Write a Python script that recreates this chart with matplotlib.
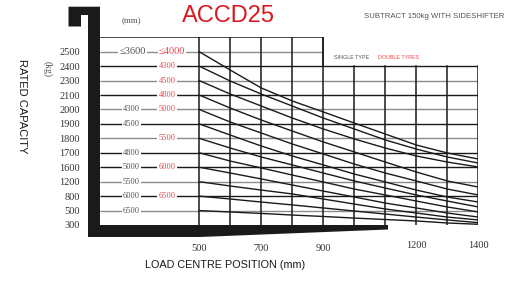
import matplotlib
matplotlib.use("Agg")
import matplotlib.pyplot as plt
import matplotlib.transforms as mtrans
from matplotlib.patches import Polygon

# ---------------------------
# data
# ---------------------------
# load centre positions (mm) of the vertical grid lines
load_centre = [500, 600, 700, 800, 900, 1000, 1100, 1200, 1300, 1400]
x_ticks = [500, 700, 900, 1200, 1400]

# rated capacity rows (kg), bottom to top -- axis is categorical, one row each
capacity_rows = ["300", "500", "800", "1200", "1600", "1700", "1800",
                 "1900", "2000", "2100", "2300", "2400", "2500"]

# lift height labels per row (single tyre / double tyres), row index -> text
single_tyre = {12: "≤3600", 8: "4300", 7: "4500", 5: "4800", 4: "5000",
               3: "5500", 2: "6000", 1: "6500"}
double_tyres = {12: "≤4000", 11: "4300", 10: "4500", 9: "4800", 8: "5000",
                6: "5500", 4: "6000", 2: "6500"}

# capacity curves (in row units) at each load_centre
curve_2500 = [12.0, 10.73, 9.49, 8.59, 7.83, 7.06, 6.30, 5.54, 4.99, 4.57]
curve_2400 = [11.0, 9.97, 9.07, 8.24, 7.41, 6.65, 5.89, 5.26, 4.71, 4.29]
curve_2300 = [10.0, 9.07, 8.24, 7.41, 6.65, 5.96, 5.33, 4.78, 4.36, 4.02]
curve_2100 = [9.0, 8.10, 7.27, 6.51, 5.75, 5.06, 4.36, 3.67, 3.05, 2.63]
curve_2000 = [8.0, 7.13, 6.37, 5.61, 4.92, 4.22, 3.60, 3.05, 2.49, 2.08]
curve_1900 = [7.0, 6.23, 5.47, 4.78, 4.16, 3.53, 2.98, 2.42, 1.94, 1.59]
curve_1800 = [6.0, 5.33, 4.71, 4.16, 3.60, 3.05, 2.56, 2.08, 1.66, 1.25]
curve_1700 = [5.0, 4.43, 3.95, 3.46, 2.98, 2.49, 2.08, 1.66, 1.25, 0.90]
curve_1600 = [4.0, 3.60, 3.19, 2.77, 2.35, 1.94, 1.52, 1.18, 0.83, 0.55]
curve_1200 = [3.0, 2.70, 2.42, 2.15, 1.80, 1.45, 1.11, 0.83, 0.55, 0.35]
curve_800 = [2.0, 1.80, 1.59, 1.39, 1.18, 0.97, 0.76, 0.55, 0.35, 0.16]
curve_500 = [1.0, 0.90, 0.80, 0.69, 0.59, 0.48, 0.38, 0.28, 0.14, 0.05]

curves = [curve_2500, curve_2400, curve_2300, curve_2100, curve_2000, curve_1900,
          curve_1800, curve_1700, curve_1600, curve_1200, curve_800, curve_500]

# ---------------------------
# style
# ---------------------------
NUM_FONT = ["Liberation Serif", "DejaVu Serif"]
LBL_FONT = ["Liberation Sans", "DejaVu Sans"]
BLACK = "#1a1a1a"
GREY = "#8c8c8c"
TXT_GREY = "#555555"
RED = "#e8474f"

W, H = 517, 281
fig = plt.figure(figsize=(W / 100, H / 100), dpi=100)

# main grid axes: px x 100..478.3, px y 37.3..225
X_LEFT = 179.7
ax = fig.add_axes([100 / W, (H - 225) / H, 378.3 / W, 187.7 / H])
ax.set_xlim(X_LEFT, 1400)
ax.set_ylim(0, 13)
for s in ax.spines.values():
    s.set_visible(False)

# horizontal row lines
dark_rows = {11, 9, 7, 5, 4, 2}
for r in range(1, 13):
    xr = 900 if r == 12 else 1400
    ax.plot([X_LEFT, xr], [r, r], color=BLACK if r in dark_rows else GREY,
            lw=1.0, solid_capstyle="butt", zorder=1)

# top border and step down at 900
ax.plot([X_LEFT, 900, 900], [13, 13, 11], color=BLACK, lw=1.1, zorder=2)
# vertical grid lines
for xv in load_centre:
    top = 13 if xv <= 900 else 11
    ax.plot([xv, xv], [0, top], color=BLACK, lw=1.1, zorder=2)

# capacity curves
for c in curves:
    ax.plot(load_centre, c, color=BLACK, lw=1.0, zorder=3)

# lift height labels on the row lines (top row is printed a bit larger)
for r, t in single_tyre.items():
    ax.text(285 if r == 12 else 280, r, t, color=TXT_GREY,
            fontsize=7.5 if r == 12 else 6,
            family=NUM_FONT, ha="center", va="center", zorder=4,
            bbox=dict(facecolor="white", edgecolor="none", pad=0.8))
for r, t in double_tyres.items():
    ax.text(412 if r == 12 else 396, r, t, color=RED,
            fontsize=7.5 if r == 12 else 6,
            family=NUM_FONT, ha="center", va="center", zorder=4,
            bbox=dict(facecolor="white", edgecolor="none", pad=0.8))

# ticks
ax.set_yticks(range(len(capacity_rows)))
ax.set_yticklabels(capacity_rows, family=NUM_FONT, fontsize=7.5, color="#333333")
ax.set_xticks(x_ticks)
ax.set_xticklabels([str(v) for v in x_ticks], family=NUM_FONT, fontsize=7.5,
                   color="#333333")
ax.tick_params(axis="y", length=0, pad=14.4)
ax.tick_params(axis="x", length=0, pad=13.5)
up = mtrans.ScaledTranslation(0, 0.03, fig.dpi_scale_trans)
for lab in ax.get_xticklabels()[3:]:
    lab.set_transform(lab.get_transform() + up)

# ---------------------------
# decoration layer in pixel coords (mast + fork, texts)
# ---------------------------
deco = fig.add_axes([0, 0, 1, 1])
deco.set_xlim(0, W)
deco.set_ylim(H, 0)
deco.axis("off")
deco.patch.set_alpha(0)

mast = [(68.5, 6.7), (100, 6.7), (100, 225), (388, 225), (388, 229.5),
        (200, 237), (88, 237), (88, 15), (81, 15), (81, 26.5), (68.5, 26.5)]
deco.add_patch(Polygon(mast, closed=True, facecolor=BLACK, edgecolor="none"))

deco.text(228, 16, "ACCD25", color="#d7191f", fontsize=17,
          family=LBL_FONT, ha="center", va="center")
deco.text(131, 21, "(mm)", color=TXT_GREY, fontsize=6.5, family=NUM_FONT,
          ha="center", va="center")
deco.text(434.5, 16.5, "SUBTRACT 150kg WITH SIDESHIFTER", color=TXT_GREY,
          fontsize=5.6, family=LBL_FONT, ha="center", va="center")
deco.text(334, 57.5, "SINGLE TYPE", color=TXT_GREY, fontsize=3.9,
          family=LBL_FONT, ha="left", va="center")
deco.text(378, 57.5, "DOUBLE TYRES", color=RED, fontsize=3.9,
          family=LBL_FONT, ha="left", va="center")
deco.text(47.5, 69, "(kg)", color=TXT_GREY, fontsize=7, family=NUM_FONT,
          rotation=-90, ha="center", va="center")
deco.text(21.5, 106, "RATED CAPACITY", color=BLACK, fontsize=8,
          family=LBL_FONT, rotation=-90, ha="center", va="center")
deco.text(225, 265, "LOAD CENTRE POSITION (mm)", color=BLACK, fontsize=7.8,
          family=LBL_FONT, ha="center", va="center")

fig.savefig("out.png", dpi=100)
